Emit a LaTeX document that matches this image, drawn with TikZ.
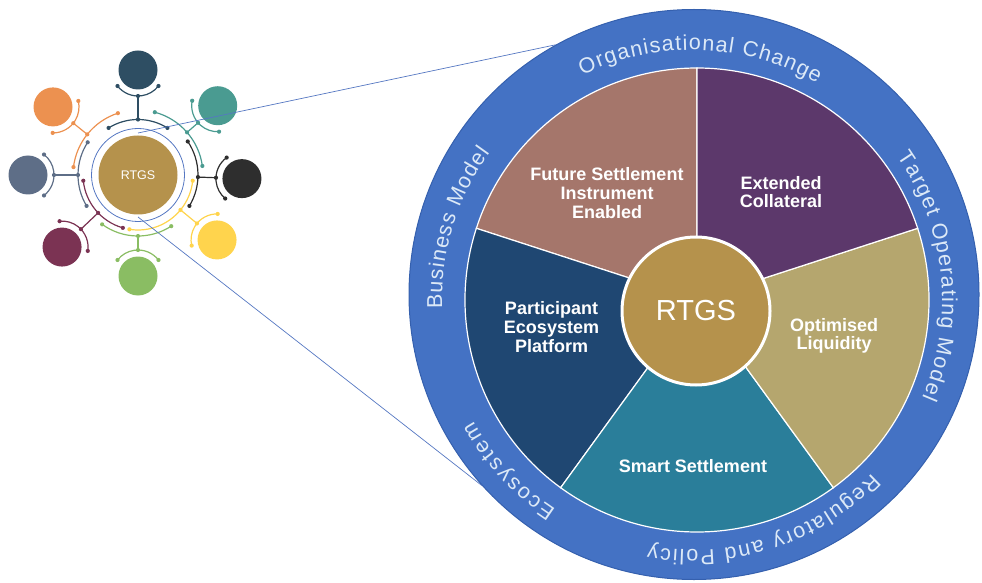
\documentclass[tikz,border=0pt]{standalone}
\usepackage{fontspec}
\setmainfont{Liberation Sans}
\usepackage{tikz}
\usetikzlibrary{decorations.text}

\definecolor{ringblue}{HTML}{4472C4}
\definecolor{ringedge}{HTML}{3560AE}
\definecolor{ringtxt}{HTML}{DCE9F7}
\definecolor{segbrown}{HTML}{A5766B}
\definecolor{segpurple}{HTML}{5C386B}
\definecolor{segolive}{HTML}{B5A66E}
\definecolor{segteal}{HTML}{2A7E9A}
\definecolor{segnavy}{HTML}{1F4772}
\definecolor{hubgold}{HTML}{B5924C}
\definecolor{slate}{HTML}{2E4E63}
\definecolor{jade}{HTML}{4A9B91}
\definecolor{coal}{HTML}{2E2E2E}
\definecolor{sun}{HTML}{FFD44D}
\definecolor{leaf}{HTML}{8ABD63}
\definecolor{plum}{HTML}{7B3353}
\definecolor{steel}{HTML}{5E6E87}
\definecolor{amber}{HTML}{EC9150}
\definecolor{zoomblue}{HTML}{5577C2}

\tikzset{
  wedge/.style={draw=white, line width=1.2},
  seglabel/.style={white, align=center, font=\fontsize{18}{18.6}\selectfont\bfseries},
  ringlabel/.style={decorate, decoration={text along path, text align={fit to path},
      text={|\color{ringtxt}\fontsize{21.5}{22}\selectfont|#1}}},
  hub/.style={circle, fill=hubgold, inner sep=0, text=white},
  sat/.style={circle, inner sep=0, minimum size=39},
  zoomline/.style={zoomblue, line width=0.7}
}

\begin{document}
\begin{tikzpicture}[x=1pt,y=1pt]
  \useasboundingbox (0,0) rectangle (982,582);

  % outer band and the five sectors
  \node[circle, fill=ringblue, draw=ringedge, line width=1, minimum size=570, inner sep=0] (ring) at (694,287.5) {};
  \coordinate (pie) at (697,282);
  \foreach \from/\col in {90/segbrown, 162/segnavy, 234/segteal, 306/segolive, 18/segpurple}
    \filldraw[wedge, fill=\col] (pie) -- ++(\from:232) arc[start angle=\from, delta angle=72, radius=232] -- cycle;
  \node[hub, draw=white, line width=3, minimum size=148, font=\fontsize{29}{30}\selectfont] (rtgs) at (696,271) {RTGS};

  \node[seglabel] (future) at (607,389) {Future Settlement\\Instrument\\Enabled};
  \node[seglabel] (extended) at (781,390) {Extended\\Collateral};
  \node[seglabel] (liquidity) at (834,246) {Optimised\\Liquidity};
  \node[seglabel] (smart) at (693,115.5) {Smart Settlement};
  \node[seglabel] (platform) at (551.5,255) {Participant\\Ecosystem\\Platform};

  % band captions, all running clockwise
  \begin{scope}[shift={(692,282)}]
    \path[ringlabel={Organisational Change}] (116:250) arc[start angle=116, end angle=60, radius=250];
    \path[ringlabel={Target Operating Model}] (35:250) arc[start angle=35, end angle=-23, radius=250];
    \path[ringlabel={Regulatory and Policy}] (-44:250) arc[start angle=-44, end angle=-100, radius=250];
    \path[ringlabel={Ecosystem}] (-123:250) arc[start angle=-123, end angle=-151, radius=250];
    \path[ringlabel={Business Model}] (182:250) arc[start angle=182, end angle=144, radius=250];
  \end{scope}

  % small hub with its satellites
  \begin{scope}[shift={(138,407)}]
    \draw[zoomblue, line width=0.8] (0,0) circle[radius=46.5];
    \node[hub, minimum size=79, font=\fontsize{12.5}{13}\selectfont] (mini) at (0,0) {RTGS};
    \foreach \k/\ang/\dist/\rad/\from/\to/\col in {
        1/90/105/55.5/58/122/slate, 2/41/105.6/65/8/75/jade,
        3/-2/104/60/-31/34/coal, 4/-39.4/102.3/55/-99/-6/sun,
        5/-90/101/61/-126/-57/leaf, 6/223.5/104.7/55/186/254/plum,
        7/180/110/60/147/211/steel, 8/141.3/108.9/65/108/173/amber}
    {
      \node[sat, fill=\col] (sat\k) at (\ang:\dist) {};
      \coordinate (in\k) at (\ang:{\dist-26});
      \coordinate (out\k) at (\ang:\rad);
      \draw[\col, line width=1.2] (sat\k.center) ++({\ang+128}:26) arc[start angle=\ang+128, delta angle=104, radius=26];
      \draw[\col, line width=1.2] (\from:\rad) arc[start angle=\from, end angle=\to, radius=\rad];
      \draw[\col, line width=1.2] (in\k) -- (out\k);
      \fill[\col] (in\k) circle[radius=2.1] (out\k) circle[radius=2.1]
        (\from:\rad) circle[radius=2.1] (\to:\rad) circle[radius=2.1]
        (sat\k.center) ++({\ang+128}:26) circle[radius=2.1]
        (sat\k.center) ++({\ang+232}:26) circle[radius=2.1];
    }
    \coordinate (zoomtop) at (0,42);
    \coordinate (zoombot) at (0,-42);
  \end{scope}

  \draw[zoomline] (zoomtop) -- (ring.119);
  \draw[zoomline] (zoombot) -- (ring.222);
\end{tikzpicture}
\end{document}
